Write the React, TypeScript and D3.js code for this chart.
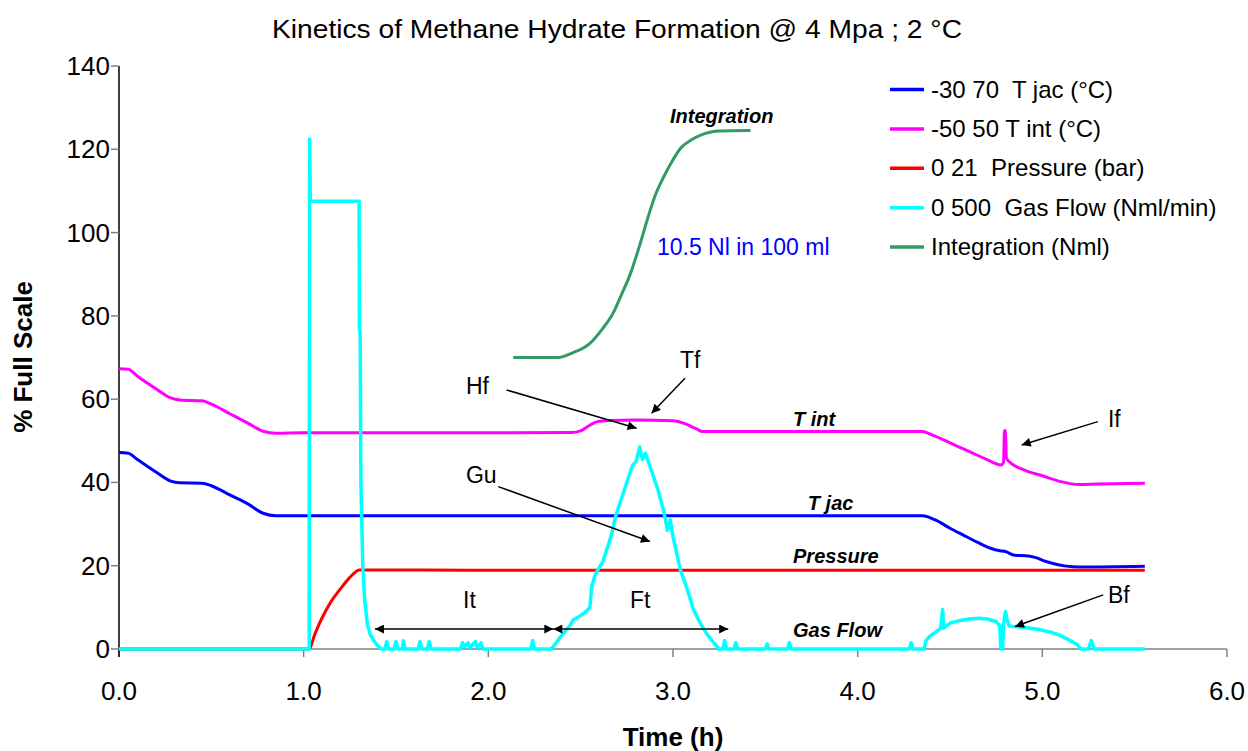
import React from "react";
import * as d3 from "d3";

// ---------- DATA ----------
const xTicks = [0, 1, 2, 3, 4, 5, 6];
const yTicks = [0, 20, 40, 60, 80, 100, 120, 140];

const tJac: [number, number][] = [
  [0, 47.2], [0.05, 47.0], [0.1, 45.5], [0.2, 42.5], [0.28, 40.3], [0.33, 39.9], [0.45, 39.8],
  [0.5, 39.2], [0.6, 37.0], [0.7, 34.8], [0.78, 32.6], [0.85, 32.0], [1.0, 32.0], [2.0, 32.0],
  [3.0, 32.0], [4.35, 32.0], [4.42, 31.0], [4.5, 29.0], [4.57, 27.4], [4.65, 25.6], [4.72, 24.2],
  [4.77, 23.6], [4.8, 23.4], [4.85, 22.5], [4.91, 22.4], [4.96, 22.0], [5.02, 21.0], [5.08, 20.3],
  [5.13, 19.9], [5.2, 19.7], [5.555, 19.9],
];

const tInt: [number, number][] = [
  [0, 67.3], [0.05, 67.2], [0.1, 65.5], [0.2, 62.5], [0.28, 60.3], [0.33, 59.8], [0.45, 59.6],
  [0.5, 58.8], [0.6, 56.5], [0.7, 54.2], [0.78, 52.3], [0.85, 51.8], [1.0, 51.9], [2.0, 51.9],
  [2.45, 52.0], [2.5, 52.4], [2.53, 53.2], [2.56, 54.0], [2.59, 54.6], [2.65, 54.9], [2.8, 55.0],
  [3.0, 54.8], [3.06, 54.2], [3.1, 53.4], [3.13, 52.8], [3.16, 52.2], [3.5, 52.2], [4.35, 52.2],
  [4.4, 51.5], [4.5, 49.5], [4.6, 47.5], [4.7, 45.5], [4.775, 44.2], [4.79, 44.8], [4.795, 52.5],
  [4.80, 52.4], [4.805, 46.0], [4.82, 45.0], [4.9, 43.0], [5.0, 41.6], [5.1, 40.2], [5.2, 39.5],
  [5.3, 39.6], [5.555, 39.8],
];

const pressure: [number, number][] = [
  [0, 0], [1.03, 0], [1.06, 3.5], [1.1, 7.5], [1.15, 11.5], [1.2, 14.5], [1.25, 17.2],
  [1.29, 18.8], [1.3, 19.0], [2.0, 18.9], [3.0, 18.9], [4.0, 18.9], [5.555, 18.9],
];

const gasFlow: [number, number][] = [
  [0, 0], [1.03, 0], [1.032, 122.5], [1.036, 107.5], [1.3, 107.5], [1.302, 77], [1.306, 76],
  [1.31, 40], [1.32, 20], [1.33, 12], [1.345, 6], [1.36, 3.5], [1.38, 2], [1.4, 0.8], [1.42, 0],
  [1.44, 0], [1.45, 1.8], [1.46, 0], [1.49, 0], [1.5, 1.8], [1.51, 0], [1.535, 0], [1.54, 2],
  [1.55, 0], [1.62, 0], [1.63, 1.8], [1.64, 0], [1.67, 0], [1.68, 1.8], [1.69, 0], [1.85, 0],
  [1.86, 1.5], [1.87, 0.5], [1.89, 1.5], [1.9, 0.3], [1.93, 1.8], [1.94, 0.3], [1.96, 1.5],
  [1.97, 0], [2.23, 0], [2.24, 2], [2.25, 0], [2.34, 0], [2.36, 1], [2.39, 2.9], [2.42, 4.5],
  [2.44, 5.5], [2.46, 7], [2.5, 8], [2.53, 9], [2.55, 10], [2.56, 15], [2.58, 18], [2.6, 19.5],
  [2.62, 21], [2.65, 25], [2.67, 28], [2.69, 32], [2.72, 36], [2.75, 40], [2.78, 44], [2.8, 45],
  [2.82, 48.5], [2.835, 45.5], [2.85, 47], [2.87, 44.5], [2.89, 42], [2.92, 38], [2.95, 33],
  [2.97, 28.5], [2.985, 31], [3.0, 27], [3.02, 23], [3.04, 19], [3.08, 14], [3.11, 9.5],
  [3.15, 6], [3.18, 3.8], [3.22, 1.5], [3.25, 0], [3.27, 0], [3.28, 2], [3.29, 0], [3.33, 0],
  [3.34, 1.5], [3.35, 0], [3.5, 0], [3.51, 1.2], [3.52, 0], [3.62, 0], [3.63, 1.5], [3.64, 0],
  [4.28, 0], [4.29, 1.5], [4.3, 0], [4.36, 0], [4.37, 2], [4.39, 3], [4.42, 4], [4.45, 5],
  [4.46, 9.5], [4.465, 5], [4.5, 6.2], [4.55, 6.8], [4.6, 7.2], [4.66, 7.4], [4.7, 7.2],
  [4.75, 6.6], [4.77, 5.5], [4.775, 0], [4.785, 0], [4.79, 6], [4.8, 9], [4.81, 7], [4.82, 5.5],
  [4.84, 5.4], [4.9, 5.2], [4.99, 4.6], [5.05, 4.0], [5.09, 3.4], [5.14, 2.3], [5.19, 1.0],
  [5.21, 0], [5.25, 0], [5.265, 2], [5.28, 0], [5.555, 0],
];

const integration: [number, number][] = [
  [2.135, 70.0], [2.38, 70.0], [2.45, 71.0], [2.55, 73.4], [2.62, 77.0], [2.675, 80.6],
  [2.72, 85.0], [2.77, 90.2], [2.82, 97.0], [2.86, 103.0], [2.9, 108.5], [2.95, 113.4],
  [3.0, 117.5], [3.04, 120.2], [3.1, 122.3], [3.15, 123.4], [3.25, 124.4], [3.42, 124.5],
];

const seriesNames = [
  "-30 70  T jac (°C)",
  "-50 50 T int (°C)",
  "0 21  Pressure (bar)",
  "0 500  Gas Flow (Nml/min)",
  "Integration (Nml)",
];
const seriesColors = ["#0000FF", "#FF00FF", "#FF0000", "#00FFFF", "#339966"];
const seriesData = [tJac, tInt, pressure, gasFlow, integration];
const seriesSmooth = [true, true, true, false, true];

// annotation labels (data coordinates: hours, % full scale)
const curveLabels: { text: string; x: number; y: number }[] = [
  { text: "Integration", x: 2.984, y: 126.4 },
  { text: "T int", x: 3.65, y: 53.6 },
  { text: "T jac", x: 3.73, y: 33.3 },
  { text: "Pressure", x: 3.65, y: 20.6 },
  { text: "Gas Flow", x: 3.65, y: 2.8 },
];
const noteLabels: { text: string; x: number; y: number }[] = [
  { text: "Hf", x: 1.879, y: 61.2 },
  { text: "Tf", x: 3.038, y: 67.5 },
  { text: "If", x: 5.355, y: 53.3 },
  { text: "Gu", x: 1.879, y: 39.9 },
  { text: "It", x: 1.863, y: 9.8 },
  { text: "Ft", x: 2.767, y: 9.8 },
  { text: "Bf", x: 5.355, y: 11.0 },
];
const arrows: { x1: number; y1: number; x2: number; y2: number; both?: boolean }[] = [
  { x1: 2.099, y1: 62.2, x2: 2.803, y2: 53.0 },
  { x1: 3.065, y1: 65.0, x2: 2.884, y2: 56.6 },
  { x1: 5.301, y1: 54.6, x2: 4.888, y2: 49.0 },
  { x1: 2.054, y1: 39.0, x2: 2.875, y2: 25.8 },
  { x1: 5.33, y1: 13.0, x2: 4.852, y2: 5.4 },
  { x1: 1.386, y1: 4.8, x2: 2.352, y2: 4.8, both: true },
  { x1: 2.352, y1: 4.8, x2: 3.299, y2: 4.8, both: true },
];
const noteText = { text: "10.5 Nl in 100 ml", x: 2.913, y: 94.6 };

const FONT = "'Liberation Sans', Arial, Helvetica, sans-serif";

export default function App() {
  const W = 1248;
  const H = 751;
  const x = d3.scaleLinear().domain([0, 6]).range([119, 1227]);
  const y = d3.scaleLinear().domain([0, 140]).range([649, 66]);
  const lineLin = d3
    .line<[number, number]>()
    .x((d) => x(d[0]))
    .y((d) => y(d[1]));
  const lineSmooth = d3
    .line<[number, number]>()
    .x((d) => x(d[0]))
    .y((d) => y(d[1]))
    .curve(d3.curveMonotoneX);

  return (
    <svg
      width={W}
      height={H}
      style={{ position: "absolute", left: 0, top: 0, display: "block", background: "#fff" }}
      fontFamily={FONT}
    >
      <defs>
        <marker id="ah" viewBox="0 0 10 10" refX="10" refY="5" markerWidth="13" markerHeight="9"
          markerUnits="userSpaceOnUse" orient="auto-start-reverse">
          <path d="M0,0 L10,5 L0,10 z" fill="#000" />
        </marker>
      </defs>
      <rect x={0} y={0} width={W} height={H} fill="#fff" />

      {/* title */}
      <text x={617} y={38} textAnchor="middle" fontSize={25} fill="#000" textLength={690} lengthAdjust="spacingAndGlyphs">
        Kinetics of Methane Hydrate Formation @ 4 Mpa ; 2 °C
      </text>

      {/* x axis */}
      <line x1={x(0)} x2={x(6)} y1={y(0)} y2={y(0)} stroke="#808080" strokeWidth={1.5} />
      {xTicks.map((t) => (
        <g key={"xt" + t}>
          <line x1={x(t)} x2={x(t)} y1={y(0)} y2={y(0) + 8} stroke="#808080" strokeWidth={1.5} />
          <text x={x(t)} y={700} textAnchor="middle" fontSize={26} fill="#000">
            {t.toFixed(1)}
          </text>
        </g>
      ))}
      {/* y axis */}
      <line x1={x(0)} x2={x(0)} y1={y(140)} y2={y(0) + 8} stroke="#000" strokeWidth={1.5} />
      {yTicks.map((t) => (
        <g key={"yt" + t}>
          <line x1={x(0) - 8} x2={x(0)} y1={y(t)} y2={y(t)} stroke="#808080" strokeWidth={1.5} />
          <text x={110} y={y(t) + 9} textAnchor="end" fontSize={26} fill="#000">
            {t}
          </text>
        </g>
      ))}
      <text
        transform={`translate(32,357) rotate(-90)`}
        textAnchor="middle"
        fontSize={26}
        fontWeight="bold"
        fill="#000"
      >
        % Full Scale
      </text>
      <text x={673} y={746} textAnchor="middle" fontSize={26} fontWeight="bold" fill="#000">
        Time (h)
      </text>

      {/* series */}
      {seriesData.map((d, i) => (
        <path
          key={"s" + i}
          d={(seriesSmooth[i] ? lineSmooth(d) : lineLin(d)) || ""}
          fill="none"
          stroke={seriesColors[i]}
          strokeWidth={i === 3 ? 3.5 : 3}
          strokeLinejoin="round"
        />
      ))}

      {/* curve labels */}
      {curveLabels.map((l) => (
        <text key={l.text} x={x(l.x)} y={y(l.y)} fontSize={20} fontWeight="bold" fontStyle="italic" fill="#000">
          {l.text}
        </text>
      ))}
      {noteLabels.map((l) => (
        <text key={l.text} x={x(l.x)} y={y(l.y)} fontSize={23} fill="#000">
          {l.text}
        </text>
      ))}
      <text x={x(noteText.x)} y={y(noteText.y)} fontSize={23} fill="#0000FF">
        {noteText.text}
      </text>
      {arrows.map((a, i) => (
        <line
          key={"a" + i}
          x1={x(a.x1)}
          y1={y(a.y1)}
          x2={x(a.x2)}
          y2={y(a.y2)}
          stroke="#000"
          strokeWidth={1.5}
          markerEnd="url(#ah)"
          markerStart={a.both ? "url(#ah)" : undefined}
        />
      ))}

      {/* legend */}
      {seriesNames.map((n, i) => (
        <g key={"lg" + i}>
          <line x1={890} x2={924} y1={89.5 + i * 39.4} y2={89.5 + i * 39.4} stroke={seriesColors[i]} strokeWidth={3.5} />
          <text x={931} y={89.5 + i * 39.4 + 8} fontSize={24} fill="#000" style={{ whiteSpace: "pre" }}>
            {n}
          </text>
        </g>
      ))}
    </svg>
  );
}
